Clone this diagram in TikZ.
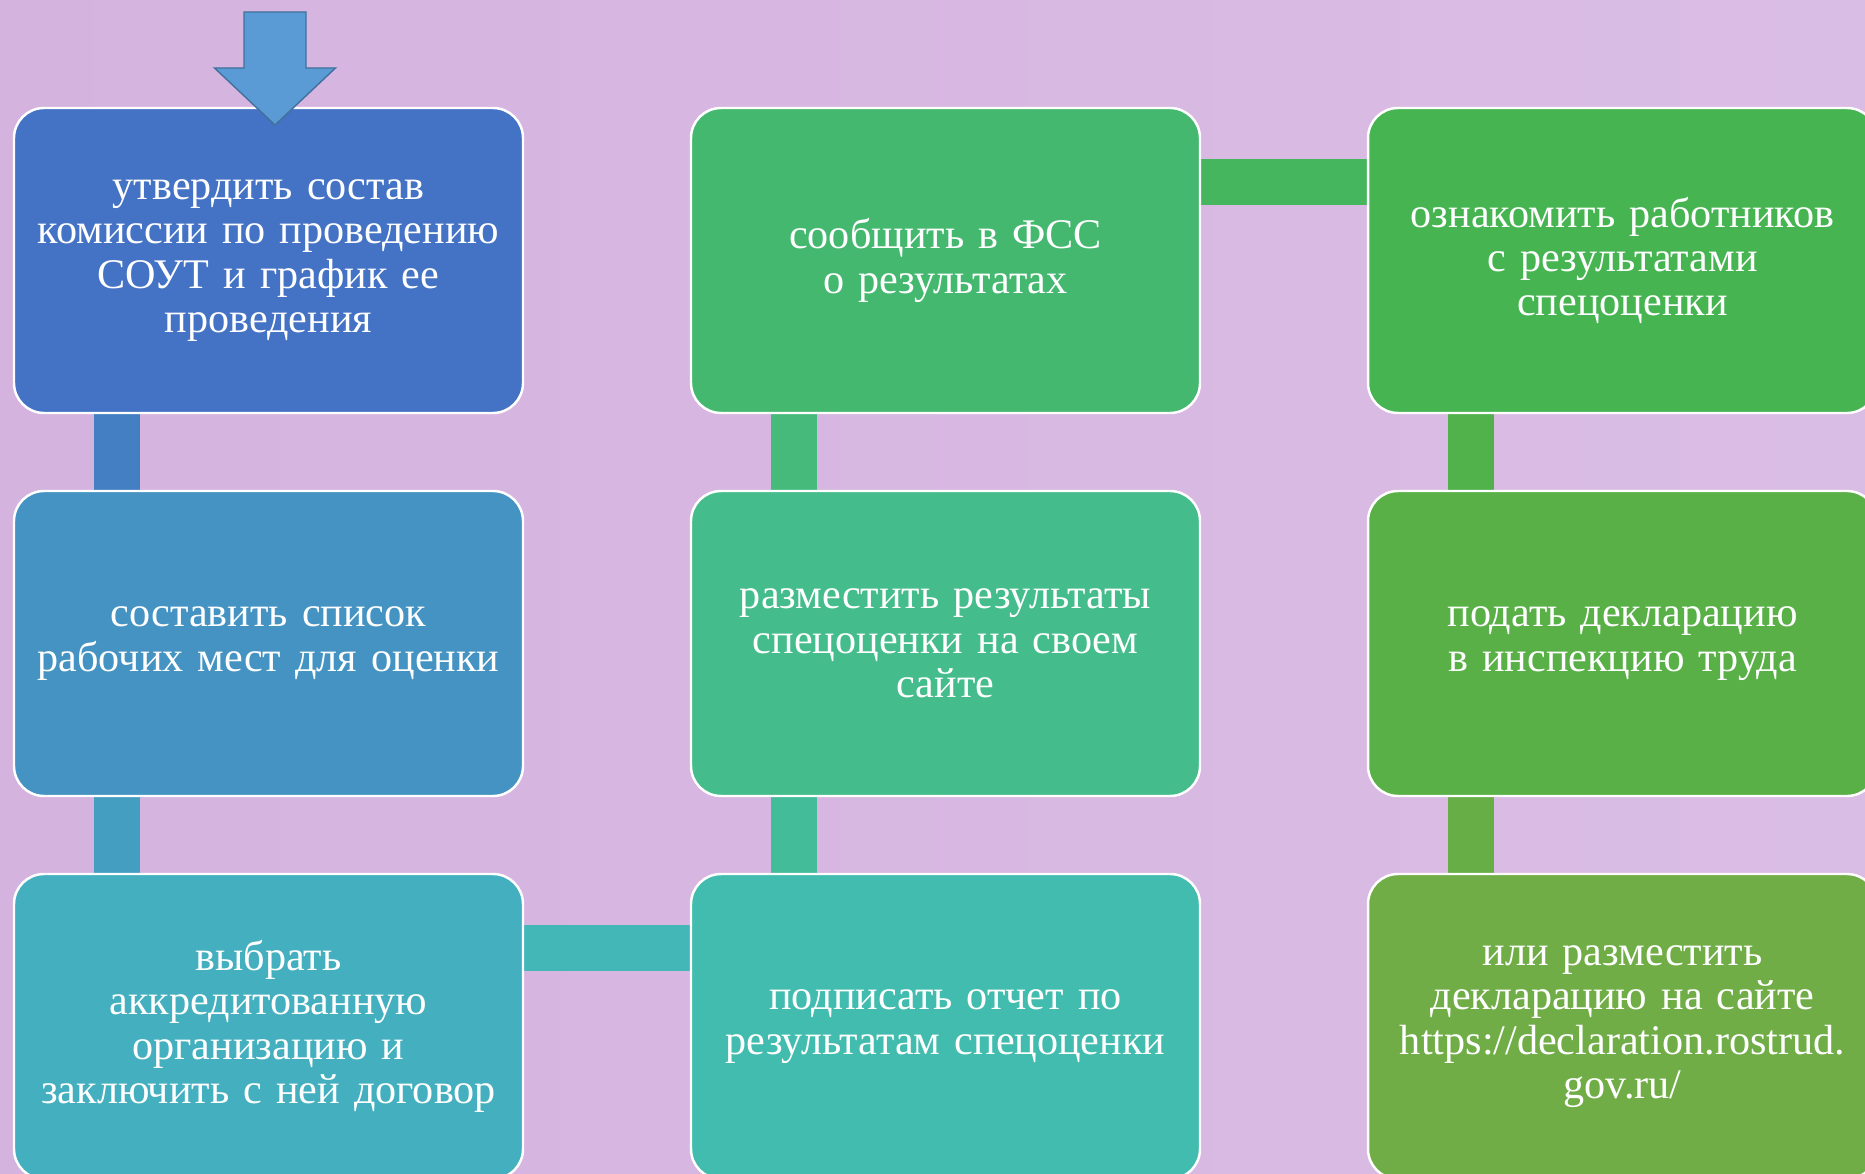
\documentclass[tikz,border=0pt]{standalone}
\usepackage{fontspec}
\setmainfont{Liberation Serif}
\usetikzlibrary{positioning,chains,backgrounds}

\definecolor{boxA}{HTML}{4472C4}
\definecolor{boxB}{HTML}{4493C2}
\definecolor{boxC}{HTML}{44AFBF}
\definecolor{boxD}{HTML}{45B870}
\definecolor{boxE}{HTML}{44BC8B}
\definecolor{boxF}{HTML}{42BCAE}
\definecolor{boxG}{HTML}{47B452}
\definecolor{boxH}{HTML}{58B047}
\definecolor{boxI}{HTML}{70AD47}
\definecolor{bgL}{HTML}{D5B3DF}
\definecolor{bgM}{HTML}{E0C8E9}
\definecolor{bgR}{HTML}{DABDE4}
\definecolor{arrfill}{HTML}{5B9BD5}
\definecolor{arrline}{HTML}{41719C}

\begin{document}
\begin{tikzpicture}[
  stepbox/.style={draw=white, line width=1.4pt, rounded corners=0.6cm,
    minimum width=10.18cm, minimum height=6.1cm, text width=9.9cm,
    align=center, text=white, inner sep=0pt, outer sep=0pt,
    font=\fontsize{24}{25.3}\selectfont},
  link/.style={line width=0.92cm},
]
\useasboundingbox (0,0) rectangle (37.3,-23.48);

\begin{scope}[xshift=5.37cm,yshift=-5.21cm,start chain=going below,node distance=1.56cm]
\def\colA{1/boxA/{утвердить состав\\комиссии по проведению\\СОУТ и график ее\\проведения},
  2/boxB/{составить список\\рабочих мест для оценки},
  3/boxC/{выбрать\\аккредитованную\\организацию и\\заключить с ней договор}}
\foreach \i / \col / \txt in \colA
  \node [stepbox,fill=\col,on chain] (a\i) {\txt};
\end{scope}

\begin{scope}[xshift=18.91cm,yshift=-5.21cm,start chain=going below,node distance=1.56cm]
\def\colB{1/boxD/{сообщить в ФСС\\о результатах},
  2/boxE/{разместить результаты\\спецоценки на своем\\сайте},
  3/boxF/{подписать отчет по\\результатам спецоценки}}
\foreach \i / \col / \txt in \colB
  \node [stepbox,fill=\col,on chain] (b\i) {\txt};
\end{scope}

\begin{scope}[xshift=32.45cm,yshift=-5.21cm,start chain=going below,node distance=1.56cm]
\def\colC{1/boxG/{ознакомить работников\\с результатами\\спецоценки},
  2/boxH/{подать декларацию\\в инспекцию труда},
  3/boxI/{или разместить\\декларацию на сайте\\https://declaration.rostrud.\\gov.ru/}}
\foreach \i / \col / \txt in \colC
  \node [stepbox,fill=\col,on chain] (c\i) {\txt};
\end{scope}

\begin{scope}[on background layer]
\shade [left color=bgL,middle color=bgM,right color=bgR] (0,0) rectangle (37.3,-23.48);
\draw [link,boxA!60!boxB] ([xshift=2.05cm]a1.south west) -- ([xshift=2.05cm]a2.north west);
\draw [link,boxB!60!boxC] ([xshift=2.05cm]a2.south west) -- ([xshift=2.05cm]a3.north west);
\draw [link,boxC!50!boxF] ([yshift=-1.48cm]a3.north east) -- ([yshift=-1.48cm]b3.north west);
\draw [link,boxF!40!boxE] ([xshift=2.05cm]b3.north west) -- ([xshift=2.05cm]b2.south west);
\draw [link,boxE!40!boxD] ([xshift=2.05cm]b2.north west) -- ([xshift=2.05cm]b1.south west);
\draw [link,boxD!40!boxG] ([yshift=-1.48cm]b1.north east) -- ([yshift=-1.48cm]c1.north west);
\draw [link,boxG!40!boxH] ([xshift=2.05cm]c1.south west) -- ([xshift=2.05cm]c2.north west);
\draw [link,boxH!40!boxI] ([xshift=2.05cm]c2.south west) -- ([xshift=2.05cm]c3.north west);
\end{scope}

% block arrow into the first step
\coordinate (tip) at ([xshift=0.13cm,yshift=-0.34cm]a1.north);
\filldraw [fill=arrfill,draw=arrline,line width=0.8pt]
  (tip) -- ++(-1.21,1.14) -- ++(0.59,0) -- ++(0,1.12) -- ++(1.24,0)
  -- ++(0,-1.12) -- ++(0.59,0) -- cycle;

\end{tikzpicture}
\end{document}
